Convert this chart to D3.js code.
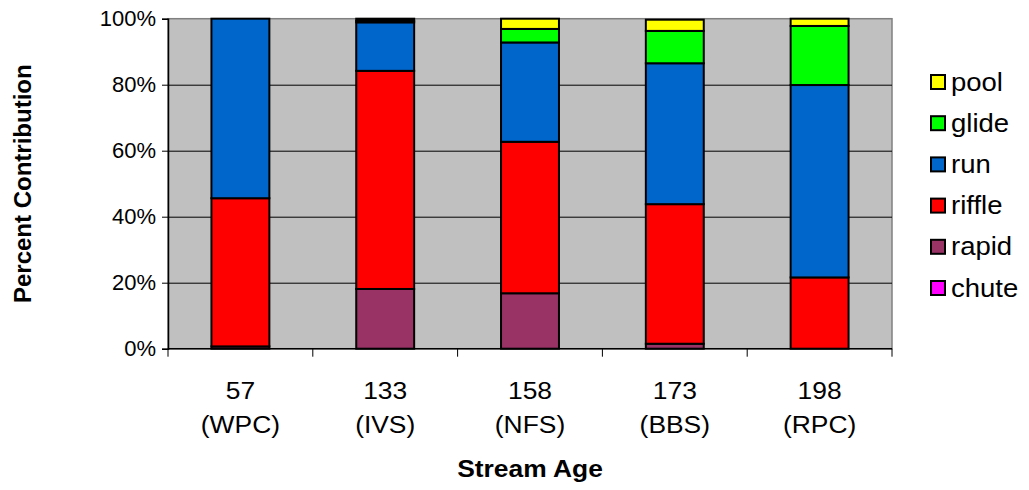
<!DOCTYPE html>
<html>
<head>
<meta charset="utf-8">
<script src="https://cdn.jsdelivr.net/npm/d3@7"></script>
<style>
  body { margin: 0; background: #fff; }
  text { font-family: "Liberation Sans", Arial, sans-serif; }
</style>
</head>
<body>
<div id="chart"></div>
<script>
// categories (stream age + site)
const ages = ["57", "133", "158", "173", "198"];
const sites = ["(WPC)", "(IVS)", "(NFS)", "(BBS)", "(RPC)"];

// habitat types, bottom of the stack first
const habitats = ["chute", "rapid", "riffle", "run", "glide", "pool"];
const colors = ["#FF00FF", "#993366", "#FF0000", "#0066CC", "#00FF00", "#FFFF00"];

// percent contribution per site
const chute  = [0, 0, 0, 0, 0];
const rapid  = [0.7, 18.1, 16.8, 1.5, 0];
const riffle = [44.9, 66.1, 45.9, 42.3, 21.6];
const run    = [54.4, 14.7, 30.1, 42.7, 58.3];
const glide  = [0, 0.5, 4.1, 9.8, 17.9];
const pool   = [0, 0.6, 3.1, 3.4, 2.2];

const yTicks = [0, 20, 40, 60, 80, 100];

const W = 1029, H = 490;
const margin = {top: 18.7, right: 137, bottom: 141.3, left: 168};
const width = W - margin.left - margin.right,
  height = H - margin.top - margin.bottom;
const stretch = 1.1; // text in the picture is a bit wider than tall

const svg = d3.select("#chart")
  .append("svg")
    .attr("width", W)
    .attr("height", H);

const g = svg.append("g")
  .attr("transform", `translate(${margin.left}, ${margin.top})`);

// build rows for the stack
const seriesVals = {chute, rapid, riffle, run, glide, pool};
const rows = ages.map((a, i) => {
  const r = {age: a};
  habitats.forEach(h => { r[h] = seriesVals[h][i]; });
  return r;
});
const stacked = d3.stack().keys(habitats)(rows);

const x = d3.scaleBand().domain(ages).range([0, width]).paddingInner(0.6).paddingOuter(0.3);
const xCat = d3.scaleBand().domain(ages).range([0, width]);
const y = d3.scaleLinear().domain([0, 100]).range([height, 0]);
const color = d3.scaleOrdinal().domain(habitats).range(colors);

// plot area
g.append("rect")
  .attr("width", width)
  .attr("height", height)
  .attr("fill", "#C0C0C0")
  .attr("stroke", "#808080")
  .attr("stroke-width", 1.5);

// gridlines
g.selectAll(".grid")
  .data(yTicks.filter(t => t > 0 && t < 100))
  .join("line")
    .attr("x1", 0)
    .attr("x2", width)
    .attr("y1", d => Math.round(y(d)) + 0.5)
    .attr("y2", d => Math.round(y(d)) + 0.5)
    .attr("stroke", "#000")
    .attr("stroke-width", 1);

// bars
g.selectAll(".layer")
  .data(stacked)
  .join("g")
    .attr("fill", d => color(d.key))
  .selectAll("rect")
  .data(d => d)
  .join("rect")
    .attr("x", d => x(d.data.age))
    .attr("y", d => y(d[1]))
    .attr("width", x.bandwidth())
    .attr("height", d => y(d[0]) - y(d[1]))
    .attr("stroke", "#000")
    .attr("stroke-width", 2);

// y axis
const yAxis = g.append("g")
  .call(d3.axisLeft(y).tickValues(yTicks).tickFormat(d => d + "%").tickSize(6).tickPadding(6));
yAxis.select(".domain").attr("stroke", "#000").attr("stroke-width", 1.5);
yAxis.selectAll("text").attr("font-size", 22).attr("fill", "#000");

// x axis: ticks at category boundaries
const xAxis = g.append("g").attr("transform", `translate(0, ${height})`);
xAxis.append("line")
  .attr("x1", 0).attr("x2", width)
  .attr("stroke", "#000").attr("stroke-width", 1.5);
xAxis.selectAll(".tk")
  .data(ages.concat(["end"]))
  .join("line")
    .attr("x1", (d, i) => i < ages.length ? xCat(d) : width)
    .attr("x2", (d, i) => i < ages.length ? xCat(d) : width)
    .attr("y1", 0).attr("y2", 8)
    .attr("stroke", "#000");

const xl = xAxis.selectAll(".xl")
  .data(ages)
  .join("g")
    .attr("transform", d => `translate(${xCat(d) + xCat.bandwidth() / 2}, 0) scale(${stretch}, 1)`)
  .append("text")
    .attr("text-anchor", "middle")
    .attr("font-size", 24);
xl.append("tspan").attr("x", 0).attr("y", 50).text(d => d);
xl.append("tspan").attr("x", 0).attr("y", 84).text((d, i) => sites[i]);

// axis titles
svg.append("text")
  .attr("transform", `translate(${margin.left + width / 2}, 477) scale(${stretch}, 1)`)
  .attr("text-anchor", "middle")
  .attr("font-size", 24)
  .attr("font-weight", "bold")
  .text("Stream Age");

svg.append("text")
  .attr("transform", `translate(31, ${margin.top + height / 2}) rotate(-90)`)
  .attr("text-anchor", "middle")
  .attr("font-size", 24)
  .attr("font-weight", "bold")
  .text("Percent Contribution");

// legend, top entry is the top of the stack
const legend = svg.append("g").attr("transform", "translate(931, 82)");
const items = habitats.slice().reverse();
const li = legend.selectAll("g")
  .data(items)
  .join("g")
    .attr("transform", (d, i) => `translate(0, ${i * 41.2})`);
li.append("rect")
  .attr("x", 0).attr("y", -7)
  .attr("width", 14).attr("height", 14)
  .attr("fill", d => color(d))
  .attr("stroke", "#000")
  .attr("stroke-width", 2);
li.append("text")
  .attr("transform", `translate(20, 8.5) scale(${stretch}, 1)`)
  .attr("font-size", 25)
  .text(d => d);
</script>
</body>
</html>
